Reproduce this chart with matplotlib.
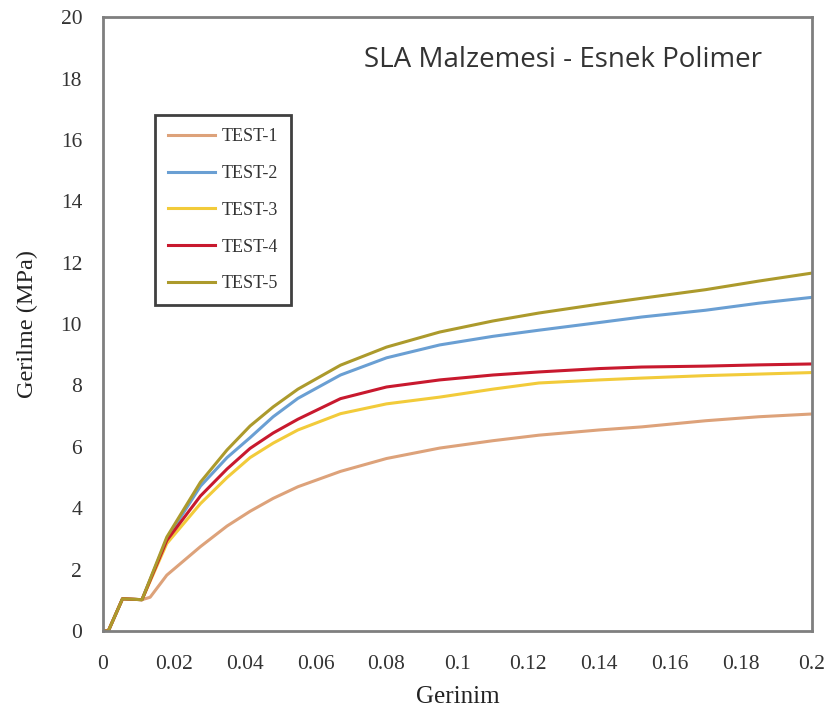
import matplotlib
matplotlib.use("Agg")
import matplotlib.pyplot as plt

# Strain values (shared grid) and stress series (MPa)
strain = [0.0, 0.0015, 0.0055, 0.011, 0.018, 0.0275, 0.035, 0.0415, 0.048, 0.055,
          0.067, 0.08, 0.095, 0.11, 0.123, 0.14, 0.152, 0.17, 0.185, 0.2]
strain_t1 = [0.0, 0.0015, 0.0055, 0.011, 0.0133, 0.018, 0.0275, 0.035, 0.0415, 0.048, 0.055,
             0.067, 0.08, 0.095, 0.11, 0.123, 0.14, 0.152, 0.17, 0.185, 0.2]
test1 = [0.0, 0.0, 1.05, 1.02, 1.1, 1.82, 2.75, 3.42, 3.9, 4.32, 4.7,
         5.2, 5.62, 5.96, 6.2, 6.38, 6.55, 6.65, 6.85, 6.98, 7.07]
test2 = [0.0, 0.0, 1.05, 1.02, 3.0, 4.72, 5.65, 6.3, 6.98, 7.58,
         8.34, 8.9, 9.32, 9.6, 9.8, 10.05, 10.23, 10.45, 10.68, 10.87]
test3 = [0.0, 0.0, 1.05, 1.02, 2.85, 4.15, 5.0, 5.65, 6.12, 6.55,
         7.08, 7.4, 7.62, 7.88, 8.08, 8.18, 8.24, 8.32, 8.37, 8.42]
test4 = [0.0, 0.0, 1.05, 1.02, 2.95, 4.4, 5.28, 5.95, 6.45, 6.9,
         7.57, 7.95, 8.18, 8.34, 8.44, 8.55, 8.6, 8.63, 8.67, 8.70]
test5 = [0.0, 0.0, 1.05, 1.02, 3.06, 4.85, 5.9, 6.68, 7.3, 7.88,
         8.66, 9.25, 9.74, 10.1, 10.36, 10.65, 10.84, 11.12, 11.4, 11.66]

labels = ["TEST-1", "TEST-2", "TEST-3", "TEST-4", "TEST-5"]
colors = ["#DDA27A", "#6A9FD3", "#F2CB3A", "#C8192E", "#AC9A2C"]

x_ticks = [0, 0.02, 0.04, 0.06, 0.08, 0.1, 0.12, 0.14, 0.16, 0.18, 0.2]
x_tick_labels = ["0", "0.02", "0.04", "0.06", "0.08", "0.1", "0.12", "0.14", "0.16", "0.18", "0.2"]
y_ticks = [0, 2, 4, 6, 8, 10, 12, 14, 16, 18, 20]

fig = plt.figure(figsize=(8.32, 7.13), dpi=100)
ax = fig.add_axes([0.1238, 0.115, 0.852, 0.861])

series = [(strain_t1, test1), (strain, test2), (strain, test3), (strain, test4), (strain, test5)]
for (xs, ys), lab, c in zip(series, labels, colors):
    ax.plot(xs, ys, color=c, lw=2.2, label=lab, solid_joinstyle="round")

ax.set_xlim(0, 0.2)
ax.set_ylim(0, 20)
ax.set_xticks(x_ticks)
ax.set_xticklabels(x_tick_labels)
ax.set_yticks(y_ticks)
ax.tick_params(axis="y", length=0, pad=15, labelsize=15.5, colors="#333333")
ax.tick_params(axis="x", length=0, pad=17, labelsize=15.5, colors="#333333")
for lab in ax.get_xticklabels() + ax.get_yticklabels():
    lab.set_family("Liberation Serif")
for sp in ax.spines.values():
    sp.set_color("#7F7F7F")
    sp.set_linewidth(2)

ax.set_xlabel("Gerinim", family="Liberation Serif", fontsize=18, color="#222222", labelpad=9)
ax.set_ylabel("Gerilme (MPa)", family="Liberation Serif", fontsize=17.5, color="#222222", labelpad=16)

ax.text(0.649, 0.93, "SLA Malzemesi - Esnek Polimer", transform=ax.transAxes,
        ha="center", va="center", family="Open Sans", fontsize=20, color="#333333")

leg = ax.legend(loc="upper left", bbox_to_anchor=(0.0733, 0.840), fancybox=False,
                prop={"family": "Liberation Serif", "size": 13}, handlelength=2.6,
                labelspacing=1.1, borderpad=0.7, handletextpad=0.4, framealpha=1,
                borderaxespad=0)
leg.get_frame().set_edgecolor("#404040")
leg.get_frame().set_linewidth(2)
for t in leg.get_texts():
    t.set_color("#333333")

fig.savefig("out.png", dpi=100)
